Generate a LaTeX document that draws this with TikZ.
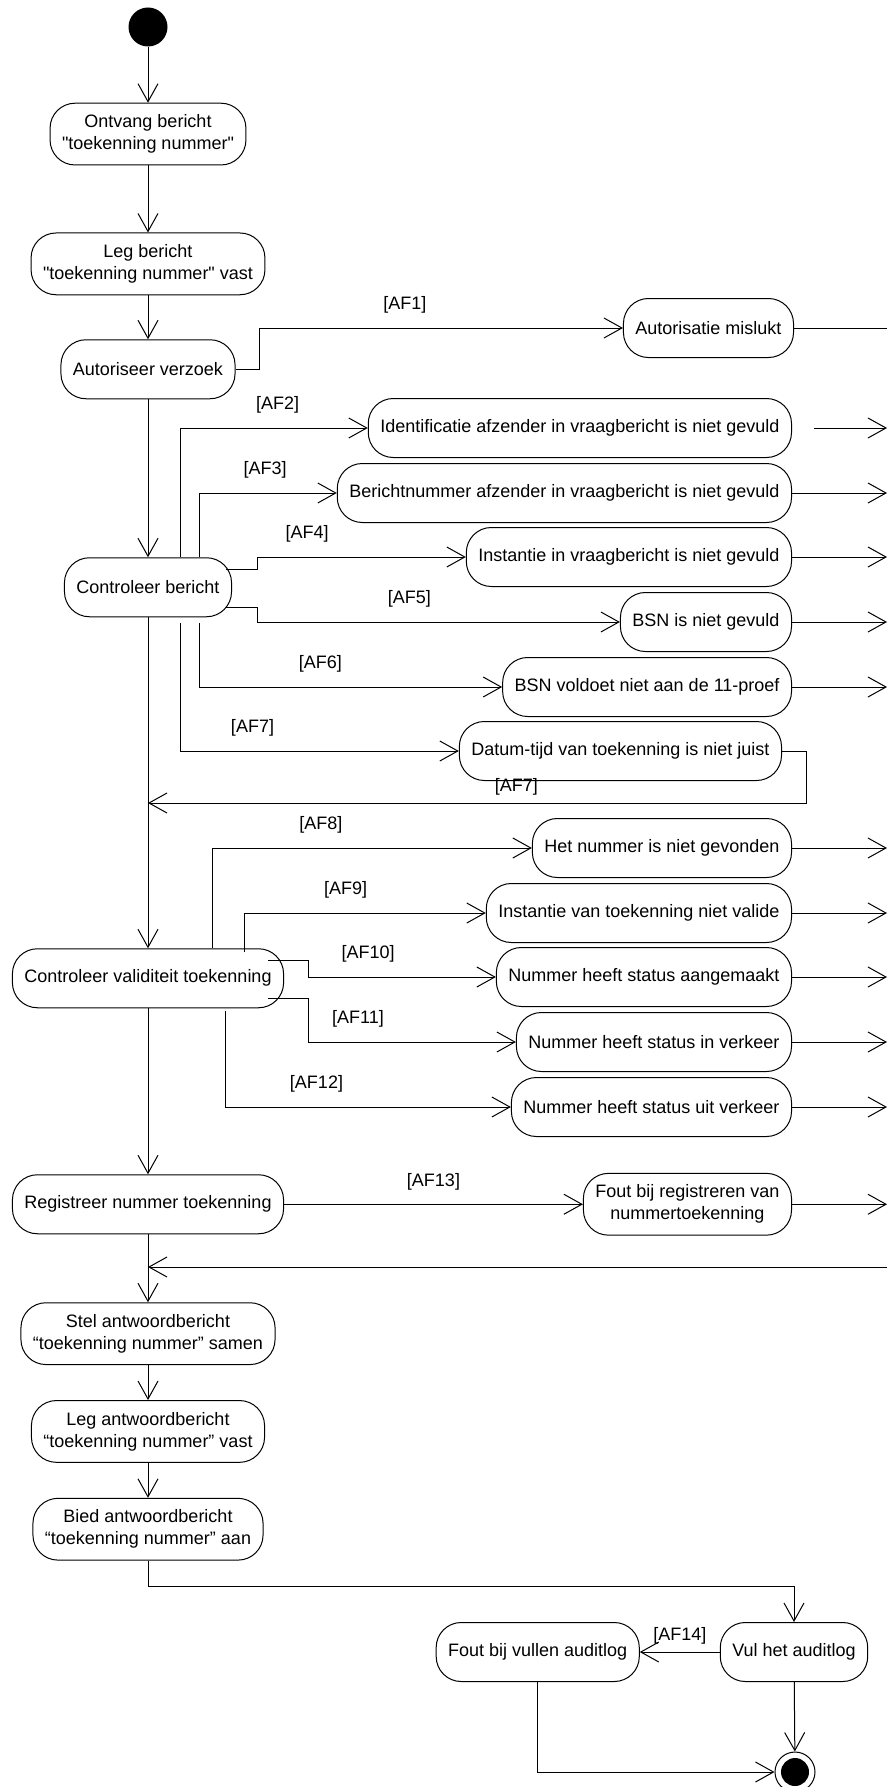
\documentclass[tikz,border=0pt]{standalone}
\usepackage{fontspec}
\setmainfont{Liberation Sans}[Ligatures=TeXOff]
\usetikzlibrary{arrows.meta,positioning}
\tikzset{
	>={Straight Barb[length=18pt,width=20pt]},
	activity/.style={
		rectangle,
		rounded corners=25pt,
		draw=black,
		line width=1pt,
		minimum height=59pt,
		inner xsep=12pt,
		inner ysep=11.5pt,
		align=center},
	startstate/.style={
		circle,
		fill=black,
		minimum size=39pt,
		inner sep=0pt},
	endstate/.style={
		circle,
		draw=black,
		line width=1pt,
		minimum size=40pt,
		inner sep=0pt,
		path picture={\fill[black] (path picture bounding box.center) circle (14pt);}},
	flowedge/.style={
		->,
		line width=1pt},
	guard/.style={
		inner sep=2pt,
		above=12pt}
}
\begin{document}
\begin{tikzpicture}[
			x=1pt, y=-1pt,
			every node/.style={font=\fontsize{18}{22}\selectfont},
			]
    \useasboundingbox (0,0) rectangle (887,1787);
    \coordinate (rim) at (887,0);
    \coordinate (join1) at (148,803);
    \coordinate (join2) at (148,1267);

    % hoofdstroom
    \node[startstate] (initial) at (148,27) {};
    \node[activity, below=56pt of initial] (ontvang) {Ontvang bericht\\"toekenning nummer"};
    \node[activity, below=67pt of ontvang] (legb) {Leg bericht\\"toekenning nummer" vast};
    \node[activity, below=44pt of legb] (autor) {Autoriseer verzoek};
    \node[activity, below=158pt of autor] (ctrl) {Controleer bericht};
    \node[activity, below=331pt of ctrl] (valid) {Controleer validiteit toekenning};
    \node[activity, below=166pt of valid] (registreer) {Registreer nummer toekenning};
    \node[activity, below=68pt of registreer] (stel) {Stel antwoordbericht\\“toekenning nummer” samen};
    \node[activity, below=35pt of stel] (legant) {Leg antwoordbericht\\“toekenning nummer” vast};
    \node[activity, below=35pt of legant] (bied) {Bied antwoordbericht\\“toekenning nummer” aan};

    % alternatieve stromen
    \node[activity, anchor=east] (autmis) at (794,328) {Autorisatie mislukt};
    \node[activity, anchor=east] (ident) at (792,428) {Identificatie afzender in vraagbericht is niet gevuld};
    \node[activity, anchor=east] (berno) at (792,493) {Berichtnummer afzender in vraagbericht is niet gevuld};
    \node[activity, anchor=east] (instv) at (792,557) {Instantie in vraagbericht is niet gevuld};
    \node[activity, anchor=east] (bsnleeg) at (792,622) {BSN is niet gevuld};
    \node[activity, anchor=east] (bsnproef) at (792,687) {BSN voldoet niet aan de 11-proef};
    \node[activity, anchor=east] (datum) at (782,751) {Datum-tijd van toekenning is niet juist};
    \node[activity, anchor=east] (nietgev) at (792,848) {Het nummer is niet gevonden};
    \node[activity, anchor=east] (instval) at (792,913) {Instantie van toekenning niet valide};
    \node[activity, anchor=east] (aangem) at (792,977) {Nummer heeft status aangemaakt};
    \node[activity, anchor=east] (inverk) at (792,1042) {Nummer heeft status in verkeer};
    \node[activity, anchor=east] (uitverk) at (792,1107) {Nummer heeft status uit verkeer};
    \node[activity, anchor=east, xshift=-95pt] (foutreg) at (registreer -| rim) {Fout bij registreren van\\nummertoekenning};

    % auditlog
    \node[activity] (vul) at (794,1652) {Vul het auditlog};
    \node[activity, left=80pt of vul] (foutlog) {Fout bij vullen auditlog};
    \node[endstate] (final) at (795,1772) {};

    \path (initial) edge[flowedge] (ontvang);
    \path (ontvang) edge[flowedge] (legb);
    \path (legb) edge[flowedge] (autor);
    \path (autor) edge[flowedge] (ctrl);
    \path (ctrl) edge[flowedge] (valid);
    \path (valid) edge[flowedge] (registreer);
    \path (registreer) edge[flowedge] (stel);
    \path (stel) edge[flowedge] (legant);
    \path (legant) edge[flowedge] (bied);

    \draw[flowedge] (autor.east) -- ++(24,0) |- node[guard, pos=0.70] (g1) {[AF1]} (autmis);
    \draw[line width=1pt] (autmis) -- (autmis -| rim);

    \draw[flowedge] ([xshift=32pt]ctrl.north) |- node[guard, pos=0.76] (g2) {[AF2]} (ident);
    \draw[flowedge] ([xshift=51pt]ctrl.north) |- node[guard, pos=0.74] (g3) {[AF3]} (berno);
    \draw[flowedge] ([xshift=-6pt,yshift=18pt]ctrl.east) -- ++(31,0) |- node[guard, pos=0.62] (g4) {[AF4]} (instv);
    \draw[flowedge] ([xshift=-6pt,yshift=-20pt]ctrl.east) -- ++(31,0) |- node[guard, pos=0.71] (g5) {[AF5]} (bsnleeg);
    \draw[flowedge] ([xshift=51pt,yshift=-6pt]ctrl.south) |- node[guard, pos=0.70] (g6) {[AF6]} (bsnproef);
    \draw[flowedge] ([xshift=32pt,yshift=-6pt]ctrl.south) |- node[guard, pos=0.63] (g7) {[AF7]} (datum);
    \draw[flowedge] (datum.east) -- ++(24,0) |- node[guard, above=5pt, pos=0.72] (g7b) {[AF7]} (join1);

    \draw[flowedge] ([xshift=22pt]ident.east) -- (ident -| rim);
    \path (berno) edge[flowedge] (berno -| rim);
    \path (instv) edge[flowedge] (instv -| rim);
    \path (bsnleeg) edge[flowedge] (bsnleeg -| rim);
    \path (bsnproef) edge[flowedge] (bsnproef -| rim);

    \draw[flowedge] ([xshift=64pt]valid.north) |- node[guard, pos=0.67] (g8) {[AF8]} (nietgev);
    \draw[flowedge] ([xshift=96pt,yshift=-4pt]valid.north) |- node[guard, pos=0.71] (g9) {[AF9]} (instval);
    \draw[flowedge] ([xshift=-16pt,yshift=18pt]valid.east) -- ++(40,0) |- node[guard, pos=0.66] (g10) {[AF10]} (aangem);
    \draw[flowedge] ([xshift=-16pt,yshift=-20pt]valid.east) -- ++(40,0) |- node[guard, pos=0.62] (g11) {[AF11]} (inverk);
    \draw[flowedge] ([xshift=77pt,yshift=-3pt]valid.south) |- node[guard, pos=0.66] (g12) {[AF12]} (uitverk);

    \path (nietgev) edge[flowedge] (nietgev -| rim);
    \path (instval) edge[flowedge] (instval -| rim);
    \path (aangem) edge[flowedge] (aangem -| rim);
    \path (inverk) edge[flowedge] (inverk -| rim);
    \path (uitverk) edge[flowedge] (uitverk -| rim);

    \path (registreer) edge[flowedge] node[guard] (g13) {[AF13]} (foutreg);
    \path (foutreg) edge[flowedge] (foutreg -| rim);
    \draw[flowedge] (join2 -| rim) -- (join2);

    \draw[flowedge] (bied.south) |- ([yshift=36pt]vul.north) -- (vul.north);
    \path (vul) edge[flowedge] node[guard, above=5pt] (g14) {[AF14]} (foutlog);
    \path (vul) edge[flowedge] (final);
    \draw[flowedge] (foutlog.south) |- (final);
		\end{tikzpicture}
\end{document}
